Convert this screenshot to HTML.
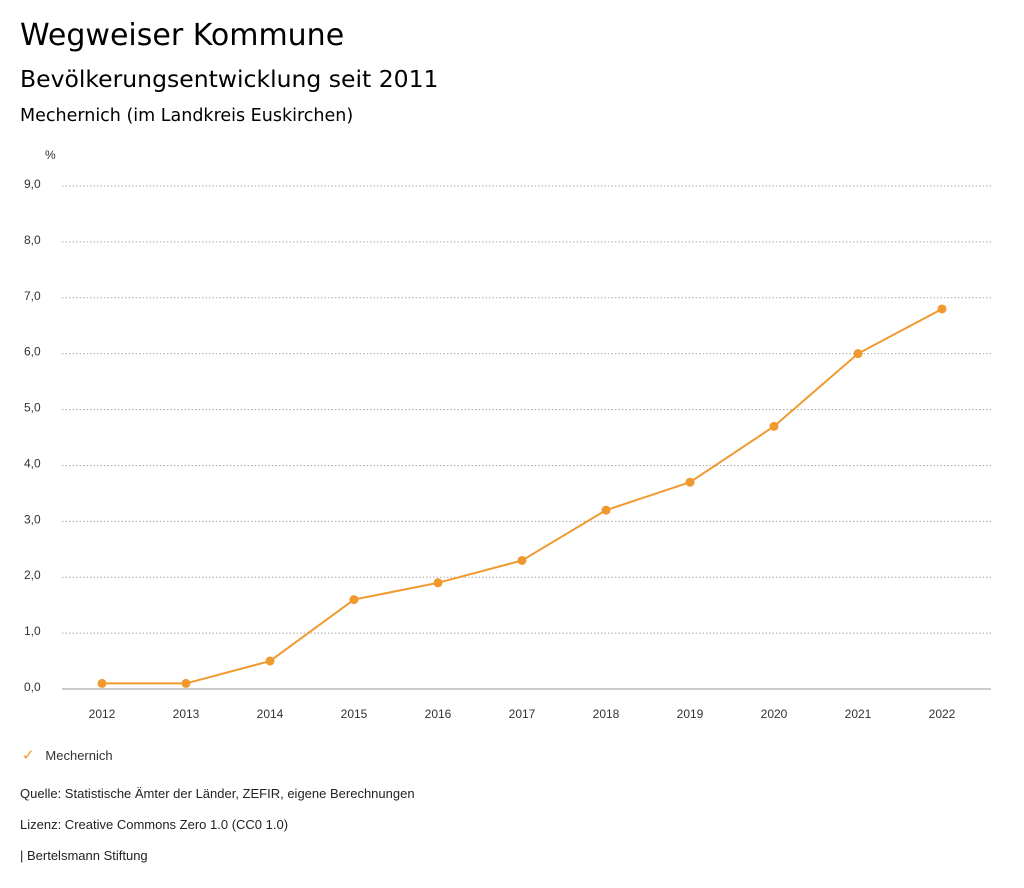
<!DOCTYPE html>
<html><head><meta charset="utf-8">
<style>
body{margin:0;width:1024px;height:888px;background:#fff;font-family:"Liberation Sans",sans-serif;color:#000;position:relative;overflow:hidden}
.t{position:absolute;white-space:nowrap}
.d{font-family:"DejaVu Sans",sans-serif}
</style></head><body>
<div class="t d" style="left:20px;top:18px;font-size:30px">Wegweiser Kommune</div>
<div class="t d" style="left:20px;top:65px;font-size:23.5px">Bevölkerungsentwicklung seit 2011</div>
<div class="t d" style="left:20px;top:106px;font-size:17.5px">Mechernich (im Landkreis Euskirchen)</div>
<svg id="chart" width="1024" height="888" style="position:absolute;left:0;top:0" font-family="Liberation Sans, sans-serif"></svg>
<div class="t" style="left:22px;top:746px;font-size:13px;color:#333"><span style="color:#f0992f;font-size:15px">✓</span>&nbsp;&nbsp;&nbsp;Mechernich</div>
<div class="t" style="left:20px;top:786px;font-size:13px;color:#222">Quelle: Statistische Ämter der Länder, ZEFIR, eigene Berechnungen</div>
<div class="t" style="left:20px;top:817px;font-size:13px;color:#222">Lizenz: Creative Commons Zero 1.0 (CC0 1.0)</div>
<div class="t" style="left:20px;top:848px;font-size:13px;color:#222">| Bertelsmann Stiftung</div>
<script>
const years=[2012,2013,2014,2015,2016,2017,2018,2019,2020,2021,2022];
const values=[0.1,0.1,0.5,1.6,1.9,2.3,3.2,3.7,4.7,6.0,6.8];
const yTicks=[0,1,2,3,4,5,6,7,8,9];
const NS="http://www.w3.org/2000/svg";
const svg=document.getElementById('chart');
const x=i=>102+i*84;
const y=v=>689-v*(503/9);
function mk(t,a){const e=document.createElementNS(NS,t);for(const k in a)e.setAttribute(k,a[k]);svg.appendChild(e);return e;}
const u=mk('text',{x:45,y:159,'font-size':12,fill:'#333'});u.textContent='%';


yTicks.forEach(v=>{
 const l=mk('line',{x1:62,x2:991,y1:y(v),y2:y(v),stroke:v===0?'#999':'#aaa','stroke-dasharray':v===0?'':'1.5,2','stroke-width':1});
 
 
 const t=mk('text',{x:24,y:y(v)+2,'font-size':12,fill:'#333'});t.textContent=v.toFixed(1).replace('.',',');
 
 
});
years.forEach((yr,i)=>{
 const t=mk('text',{x:x(i),y:718,'font-size':12,fill:'#333','text-anchor':'middle'});t.textContent=yr;
 
 
});
const p=mk('polyline',{points:values.map((v,i)=>x(i)+','+y(v)).join(' '),fill:'none',stroke:'#f0992f','stroke-width':2});


values.forEach((v,i)=>{
 const c=mk('circle',{cx:x(i),cy:y(v),r:4.5,fill:'#f0992f'});
 
 
});
</script>
</body></html>
